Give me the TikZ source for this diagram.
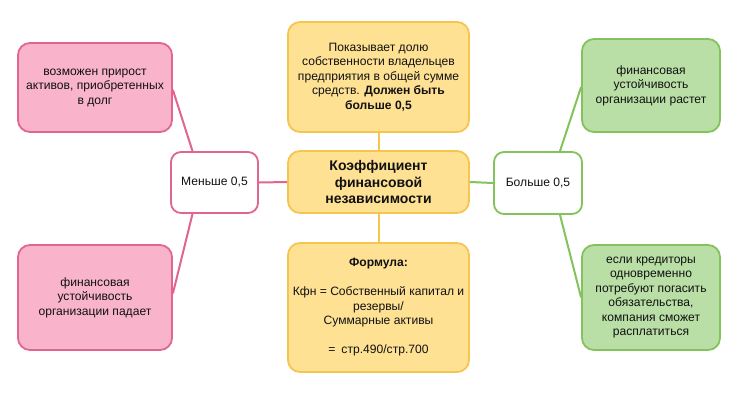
\documentclass[tikz,border=0pt]{standalone}
\usepackage{fontspec}
\setmainfont{Liberation Sans}
\definecolor{pinkfill}{HTML}{F9B4CB}
\definecolor{pinkline}{HTML}{E0668F}
\definecolor{yelfill}{HTML}{FFE194}
\definecolor{yelline}{HTML}{F6C54F}
\definecolor{grnfill}{HTML}{B9DFA6}
\definecolor{grnline}{HTML}{82C45B}
\definecolor{txt}{HTML}{111111}
\tikzset{
  box/.style={rectangle, rounded corners=12pt, line width=1.8pt, align=center, inner sep=0pt, text=txt,
    font=\fontsize{12.1}{14.5}\selectfont},
  pinkbox/.style={box, draw=pinkline, fill=pinkfill},
  yelbox/.style={box, draw=yelline, fill=yelfill},
  grnbox/.style={box, draw=grnline, fill=grnfill},
  pinklink/.style={draw=pinkline, line width=2pt},
  yellink/.style={draw=yelline, line width=2pt},
  grnlink/.style={draw=grnline, line width=2pt},
}
\begin{document}
\begin{tikzpicture}[x=1pt,y=-1pt]
\useasboundingbox[fill=white] (0,0) rectangle (755,408);
% center column
\node[yelbox, minimum width=181pt, minimum height=62pt, font=\bfseries\fontsize{14}{16.5}\selectfont] (c) at (378.5,182) {Коэффициент\\финансовой\\независимости};
\node[yelbox, minimum width=181pt, minimum height=110pt] (top) at (378.5,77) {Показывает долю\\собственности владельцев\\предприятия в общей сумме\\средств. \textbf{Должен быть}\\\textbf{больше 0,5}};
\node[yelbox, minimum width=181pt, minimum height=129pt] (bot) at (378.5,307.5) {\textbf{Формула:}\\[14.5pt]Кфн = Собственный капитал и\\резервы/\\Суммарные активы\\[14.5pt]=\enspace стр.490/стр.700};
% left
\node[box, draw=pinkline, fill=white, rounded corners=10pt, minimum width=87pt, minimum height=61pt] (less) at (214.5,182.5) {Меньше 0,5};
\node[pinkbox, minimum width=154pt, minimum height=89pt] (p1) at (95,87.5) {возможен прирост\\активов, приобретенных\\в долг};
\node[pinkbox, minimum width=154pt, minimum height=105pt] (p2) at (95,297.5) {финансовая\\устойчивость\\организации падает};
% right
\node[box, draw=grnline, fill=white, rounded corners=10pt, minimum width=88pt, minimum height=62pt] (more) at (538,183) {Больше 0,5};
\node[grnbox, minimum width=138pt, minimum height=93pt] (g1) at (651,85.5) {финансовая\\устойчивость\\организации растет};
\node[grnbox, minimum width=138pt, minimum height=105pt] (g2) at (651,297.5) {если кредиторы\\одновременно\\потребуют погасить\\обязательства,\\компания сможет\\расплатиться};
% connectors
\draw[yellink] (top.south) -- (c.north);
\draw[yellink] (c.south) -- (bot.north);
\draw[pinklink] (less.east) -- (c.west);
\draw[pinklink] ([yshift=-2.5pt]p1.east) -- ([xshift=-22pt]less.north);
\draw[pinklink] ([xshift=-22pt]less.south) -- ([yshift=4pt]p2.east);
\draw[grnlink] (c.east) -- (more.west);
\draw[grnlink] ([xshift=22pt]more.north) -- ([yshift=-1.5pt]g1.west);
\draw[grnlink] ([xshift=22pt]more.south) -- (g2.west);
\end{tikzpicture}
\end{document}
